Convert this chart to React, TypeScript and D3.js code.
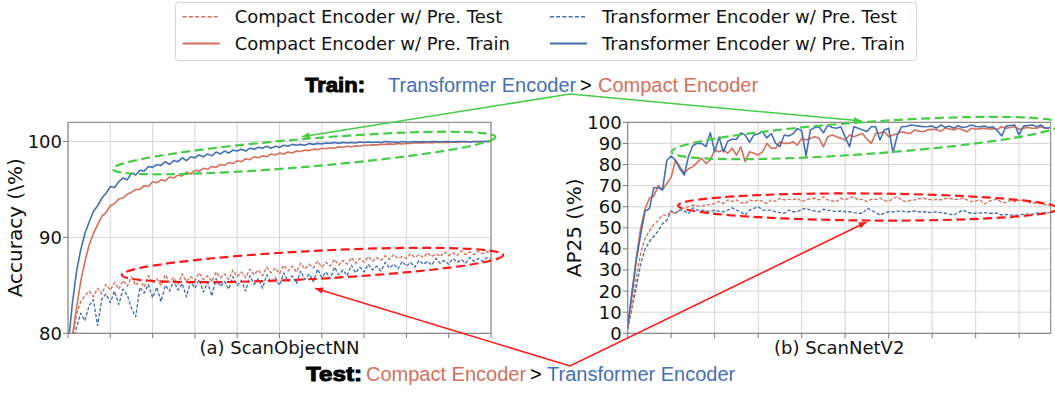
import * as d3 from "d3"

// ---- data ----
// left panel: ScanObjectNN accuracy, one value every 3 epochs (0..300)
const leftEpochStep = 3
const leftXTicks = [0, 30, 60, 90, 120, 150, 180, 210, 240, 270, 300]
const leftYTicks = [80, 90, 100]

const objTransTrain = [
  78.5, 83.0, 86.4, 88.7, 90.4, 91.6, 92.7, 93.3, 94.1, 94.6, 95.3, 95.2, 95.8, 96.2, 96.0, 96.7, 96.5, 97.0, 96.9, 97.4,
  97.3, 97.6, 97.5, 97.9, 97.6, 98.0, 97.9, 98.3, 98.0, 98.4, 98.3, 98.6, 98.4, 98.7, 98.5, 98.9, 98.7, 99.0, 98.8, 99.1,
  99.0, 99.2, 99.0, 99.3, 99.2, 99.4, 99.3, 99.5, 99.3, 99.5, 99.4, 99.6, 99.5, 99.7, 99.6, 99.7, 99.6, 99.8, 99.7, 99.8,
  99.75, 99.85, 99.8, 99.9, 99.8, 99.9, 99.85, 99.9, 99.85, 99.95, 99.9, 99.95, 99.9, 99.95, 99.9, 100, 99.95, 99.95, 99.9, 100,
  99.95, 99.95, 100, 99.95, 100, 99.95, 100, 100, 99.95, 100, 100, 99.95, 100, 100, 100, 99.95, 100, 100, 100, 100, 100
]
const objCompTrain = [
  76.0, 79.6, 82.6, 85.4, 87.5, 89.2, 90.4, 91.3, 92.2, 92.6, 93.3, 93.5, 94.0, 94.1, 94.5, 94.7, 95.0, 95.0, 95.4, 95.3,
  95.8, 95.7, 96.0, 95.9, 96.3, 96.2, 96.5, 96.4, 96.8, 96.6, 97.0, 96.9, 97.2, 97.1, 97.4, 97.3, 97.6, 97.5, 97.8, 97.7,
  98.0, 97.9, 98.2, 98.1, 98.4, 98.3, 98.5, 98.4, 98.7, 98.6, 98.8, 98.7, 98.9, 98.8, 99.0, 98.95, 99.1, 99.05, 99.2, 99.15,
  99.3, 99.25, 99.35, 99.3, 99.45, 99.4, 99.5, 99.45, 99.55, 99.5, 99.6, 99.6, 99.65, 99.65, 99.7, 99.7, 99.75, 99.7, 99.8, 99.75,
  99.8, 99.8, 99.85, 99.85, 99.85, 99.9, 99.85, 99.9, 99.9, 99.9, 99.9, 99.95, 99.9, 99.95, 99.95, 99.95, 100, 99.95, 100, 100, 100
]
const objCompTest = [
  76.0, 79.4, 81.9, 83.3, 83.9, 84.4, 83.8, 84.7, 84.1, 85.1, 84.5, 85.3, 84.6, 85.5, 84.9, 85.9, 85.0, 85.6, 84.8, 86.0,
  85.2, 85.7, 85.0, 86.1, 85.3, 85.8, 85.1, 86.2, 85.4, 85.9, 85.5, 86.3, 85.6, 86.0, 85.4, 86.4, 85.8, 86.2, 85.6, 86.6,
  85.9, 86.4, 85.8, 86.7, 86.1, 86.6, 86.0, 86.9, 86.3, 86.8, 86.2, 87.1, 86.5, 87.0, 86.4, 87.3, 86.7, 87.2, 86.8, 87.5,
  86.9, 87.4, 87.0, 87.7, 87.1, 87.6, 87.2, 87.9, 87.3, 87.8, 87.4, 88.0, 87.5, 87.9, 87.6, 88.1, 87.7, 88.2, 87.8, 88.0,
  87.8, 88.3, 87.9, 88.2, 87.9, 88.4, 88.0, 88.3, 88.0, 88.5, 88.1, 88.4, 88.1, 88.6, 88.2, 88.5, 88.2, 88.6, 88.3, 88.5, 88.4
]
const objTransTest = [
  76.0, 78.8, 80.6, 82.1, 81.3, 82.9, 83.5, 80.8, 83.6, 84.1, 83.2, 84.4, 83.0, 84.6, 84.0, 82.6, 81.7, 84.8, 84.2, 85.1,
  83.7, 84.8, 83.3, 85.0, 84.4, 85.5, 84.5, 85.2, 83.8, 85.4, 84.7, 85.6, 84.3, 85.3, 83.9, 85.7, 84.9, 85.4, 84.6, 85.9,
  85.0, 85.5, 84.4, 86.0, 85.1, 85.7, 84.7, 86.1, 85.3, 85.8, 85.0, 86.3, 85.4, 86.0, 85.2, 86.5, 85.6, 86.2, 85.4, 86.7,
  85.8, 86.4, 85.7, 86.9, 86.1, 86.6, 86.0, 87.1, 86.3, 86.9, 86.4, 87.2, 86.6, 87.0, 86.5, 87.4, 86.8, 87.2, 86.7, 87.5,
  87.0, 87.4, 86.9, 87.6, 87.2, 87.5, 87.1, 87.8, 87.3, 87.6, 87.2, 87.8, 87.4, 87.7, 87.3, 87.9, 87.5, 87.8, 87.5, 87.9, 87.7
]

// right panel: ScanNetV2 AP25, one value per epoch (0..97)
const rightXTicks = [0, 10, 20, 30, 40, 50, 60, 70, 80, 90]
const rightYTicks = [0, 10, 20, 30, 40, 50, 60, 70, 80, 90, 100]

const netTransTrain = [
  3, 20, 35, 47, 58, 59, 69, 69, 68, 82, 84, 82, 78, 75, 84, 89, 90, 90, 88.5, 95,
  86, 93, 86, 91, 92, 92, 95, 94, 90.5, 94, 94.5, 95.5, 92.6, 94.7, 90, 88.5, 94, 93.5, 94.5, 97,
  96, 84, 96.4, 97.5, 97.9, 95, 98.7, 97.5, 97.2, 97.9, 93, 88.4, 97.9, 97.2, 96.4, 95.6, 97.9, 97.9, 91.6, 96.4,
  97.2, 85.6, 94, 97.9, 98, 98.7, 98.5, 98.2, 97.9, 98, 98.2, 97.2, 98.7, 97.6, 98.2, 97.2, 98.4, 97.5, 97.9, 98.7,
  98, 97.9, 98.2, 97.5, 97.9, 96, 93.5, 98.2, 98.5, 98.7, 94, 98.2, 98.5, 98.7, 97.9, 98.7, 97.2, 97.5
]
const netCompTrain = [
  3, 18, 36, 50, 59, 64, 65, 70, 68, 71, 74, 82, 79, 76, 78, 79, 81, 83, 80.5, 82,
  87, 86, 87, 85.3, 87.7, 84.5, 88.4, 81.3, 86, 85.3, 84.5, 86, 90, 87.7, 87.7, 90.8, 90, 90, 90.8, 89.2,
  92.4, 91.6, 92.4, 93.2, 92.4, 88.4, 93.2, 94, 93.2, 92.5, 91.6, 94, 93.2, 94, 94.7, 92, 90, 94.7, 95, 95.5,
  93.2, 94, 94.7, 95.5, 95, 94.7, 96.4, 95.8, 95.5, 96.4, 96.7, 96.5, 95.8, 97.2, 96.8, 96.4, 97.2, 96.5, 95.5, 97.2,
  96.7, 97, 97.2, 96.7, 97, 96.7, 97.9, 97.2, 97.5, 97.9, 96.7, 97.2, 97.6, 97.2, 97.2, 97.9, 97.2, 97.2
]
const netCompTest = [
  2, 12, 27, 38, 45, 48.5, 51.5, 53.5, 56, 56, 57.6, 56.9, 58.4, 59.5, 60, 60.8, 60.3, 60.3, 60.8, 61,
  61.5, 62.5, 61.5, 63.2, 62.5, 63.2, 62, 61.5, 63.2, 62.5, 63.2, 62.5, 61.5, 63.2, 62.5, 64, 63.2, 63.5, 63.2, 64,
  62.4, 63.2, 63.8, 64, 63.2, 64.7, 63.2, 62.8, 62.4, 64, 63.2, 64.2, 64.7, 63.2, 63.5, 62.4, 63.5, 63.5, 64, 63,
  62.4, 63.8, 64.7, 63, 62.4, 63, 63.2, 63.8, 64, 63.5, 63.2, 63.4, 63.2, 63.8, 64, 63.5, 63.5, 64, 63.2, 62.4,
  62.8, 63.2, 61.3, 62.5, 63.2, 63.5, 62, 61.9, 63.2, 62.4, 63, 63.2, 62.4, 61.6, 61.9, 61.3, 61, 60.8
]
const netTransTest = [
  2, 12, 22, 33, 40, 43.5, 46, 48.5, 52, 53.5, 58, 56.9, 58.5, 58, 56.9, 59.5, 58.4, 58.4, 58, 57.6,
  58.4, 57.8, 57.6, 58.4, 59.5, 58.4, 57.6, 56, 58.4, 59.2, 60, 58.4, 58.4, 58.4, 57.6, 57.2, 56.9, 58.4, 57.6, 57.6,
  58.8, 59.2, 58.4, 58, 57.6, 58.8, 58.4, 58, 57.6, 58, 57.6, 57.6, 57.2, 56.9, 56.9, 59.2, 58.4, 57.2, 56, 57,
  57.6, 57.6, 57.8, 58, 57.6, 57.6, 58, 57.6, 57.6, 57.4, 57.2, 57.6, 57.2, 56.9, 56.5, 56, 57.2, 58.4, 57.4, 56.9,
  56.9, 57, 57.2, 56.9, 56.9, 56.9, 56, 56.4, 56, 56, 56, 56.5, 56.5, 56.5, 56.9, 56.9, 57, 57.2
]

const legendLabels = [
  "Compact Encoder w/ Pre. Test",
  "Compact Encoder w/ Pre. Train",
  "Transformer Encoder w/ Pre. Test",
  "Transformer Encoder w/ Pre. Train"
]
// the original labels carry a literal backslash before the percent sign
const BSL = String.fromCharCode(92)
const leftYLabel = `Accuracy (${BSL}%)`
const rightYLabel = `AP25 (${BSL}%)`

// ---- styles ----
const COMPACT = "#d4705a"
const TRANSFORMER = "#4470b2"
const GREEN = "#46cc46"
const RED = "#ff1a1a"
const GRID = "#d6d6d6"
const SPINE = "#7a7a7a"
const MPL_FONT = "DejaVu Sans"
const ARIAL = "Liberation Sans, Arial, sans-serif"

const W = 1055
const H = 393
const TOP = 122.3
const BOTTOM = 333.3

const xL = d3.scaleLinear().domain([0, 300]).range([68, 491])
const yL = d3.scaleLinear().domain([80, 102]).range([BOTTOM, TOP])
const xR = d3.scaleLinear().domain([0, 97.25]).range([627.7, 1050.7])
const yR = d3.scaleLinear().domain([0, 100]).range([BOTTOM, TOP])

function Panel({ id, x, y, xTicks, yTicks, step, series, title, ylabel, ylabelX }: any) {
  const [x0, x1] = x.range()
  const line = (vals: number[]) =>
    d3.line<number>().x((_, i) => x(i * step)).y(d => y(d))(vals) || ""
  return (
    <g>
      <defs>
        <clipPath id={id}>
          <rect x={x0} y={TOP} width={x1 - x0} height={BOTTOM - TOP} />
        </clipPath>
      </defs>
      {/* grid */}
      {xTicks.map((t: number) => (
        <line key={"gx" + t} x1={x(t)} x2={x(t)} y1={TOP} y2={BOTTOM} stroke={GRID} strokeWidth={1} />
      ))}
      {yTicks.map((t: number) => (
        <line key={"gy" + t} x1={x0} x2={x1} y1={y(t)} y2={y(t)} stroke={GRID} strokeWidth={1} />
      ))}
      {/* series */}
      <g clipPath={`url(#${id})`} fill="none" strokeLinejoin="round">
        {series.map((s: any, i: number) => (
          <path key={i} d={line(s.values)} stroke={s.color}
            strokeWidth={s.dashed ? 1.35 : 1.6} strokeDasharray={s.dashed ? "3.5,1.8" : undefined} />
        ))}
      </g>
      {/* spines */}
      <rect x={x0} y={TOP} width={x1 - x0} height={BOTTOM - TOP} fill="none" stroke={SPINE} strokeWidth={1} />
      {/* ticks */}
      {xTicks.map((t: number) => (
        <line key={"tx" + t} x1={x(t)} x2={x(t)} y1={BOTTOM} y2={BOTTOM + 5} stroke={SPINE} strokeWidth={1} />
      ))}
      {yTicks.map((t: number) => (
        <g key={"ty" + t}>
          <line x1={x0 - 5} x2={x0} y1={y(t)} y2={y(t)} stroke={SPINE} strokeWidth={1} />
          <text x={x0 - 6} y={y(t)} dy="0.36em" textAnchor="end" fontSize={18} fontFamily={MPL_FONT} fill="#111">{t}</text>
        </g>
      ))}
      <text x={(x0 + x1) / 2} y={354} textAnchor="middle" fontSize={18} fontFamily={MPL_FONT} fill="#111">{title}</text>
      <text transform={`translate(${ylabelX},${(TOP + BOTTOM) / 2}) rotate(-90)`} textAnchor="middle"
        fontSize={20} fontFamily={MPL_FONT} fill="#111">{ylabel}</text>
    </g>
  )
}

function Arrow({ pts, color }: { pts: [number, number][]; color: string }) {
  const heads = [
    [pts[0], pts[1]],
    [pts[pts.length - 1], pts[pts.length - 2]]
  ].map(([tip, from], i) => {
    const a = Math.atan2(tip[1] - from[1], tip[0] - from[0])
    const L = 8, w = 3.2
    const bx = tip[0] - L * Math.cos(a), by = tip[1] - L * Math.sin(a)
    const p = [
      [tip[0], tip[1]],
      [bx + w * Math.sin(a), by - w * Math.cos(a)],
      [bx - w * Math.sin(a), by + w * Math.cos(a)]
    ]
    return <polygon key={i} points={p.map(q => q.join(",")).join(" ")} fill={color} />
  })
  return (
    <g>
      <polyline points={pts.map(p => p.join(",")).join(" ")} fill="none" stroke={color} strokeWidth={1.6} />
      {heads}
    </g>
  )
}

function Ellipse({ cx, cy, rx, ry, angle, color }: any) {
  return (
    <ellipse cx={cx} cy={cy} rx={rx} ry={ry} transform={`rotate(${angle} ${cx} ${cy})`}
      fill="none" stroke={color} strokeWidth={2.2} strokeDasharray="9,4.5" />
  )
}

export default function App() {
  const legendItems = [
    { label: legendLabels[0], color: COMPACT, dashed: true, x: 182.7, y: 16.7 },
    { label: legendLabels[1], color: COMPACT, dashed: false, x: 182.7, y: 43.5 },
    { label: legendLabels[2], color: TRANSFORMER, dashed: true, x: 550, y: 16.7 },
    { label: legendLabels[3], color: TRANSFORMER, dashed: false, x: 550, y: 43.5 }
  ]
  return (
    <svg width={W} height={H} style={{ position: "absolute", left: 0, top: 0, background: "#fff" }}>
      <rect width={W} height={H} fill="#fff" />
      <Panel id="clipL" x={xL} y={yL} xTicks={leftXTicks} yTicks={leftYTicks} step={leftEpochStep}
        title="(a) ScanObjectNN" ylabel={leftYLabel} ylabelX={22}
        series={[
          { values: objTransTest, color: TRANSFORMER, dashed: true },
          { values: objCompTest, color: COMPACT, dashed: true },
          { values: objCompTrain, color: COMPACT, dashed: false },
          { values: objTransTrain, color: TRANSFORMER, dashed: false }
        ]} />
      <Panel id="clipR" x={xR} y={yR} xTicks={rightXTicks} yTicks={rightYTicks} step={1}
        title="(b) ScanNetV2" ylabel={rightYLabel} ylabelX={581}
        series={[
          { values: netTransTest, color: TRANSFORMER, dashed: true },
          { values: netCompTest, color: COMPACT, dashed: true },
          { values: netCompTrain, color: COMPACT, dashed: false },
          { values: netTransTrain, color: TRANSFORMER, dashed: false }
        ]} />

      {/* highlight ellipses */}
      <Ellipse cx={304} cy={153} rx={192} ry={14} angle={-4.8} color={GREEN} />
      <Ellipse cx={312.5} cy={265} rx={191} ry={14} angle={-3.0} color={RED} />
      <Ellipse cx={866} cy={138} rx={195} ry={16} angle={-4.1} color={GREEN} />
      <Ellipse cx={868} cy={207} rx={190} ry={13.5} angle={0.45} color={RED} />

      {/* arrows */}
      <Arrow pts={[[301.7, 136.7], [570, 94], [861.7, 121]]} color={GREEN} />
      <Arrow pts={[[315, 288.3], [570, 366], [866.7, 222]]} color={RED} />

      {/* annotation text */}
      <g fontFamily={ARIAL} fontSize={20}>
        <text x={305} y={92} fontSize={21} fontWeight="bold" fill="#000" stroke="#000" strokeWidth={1}
          textLength={60} lengthAdjust="spacingAndGlyphs">Train:</text>
        <text x={388} y={92} fill={TRANSFORMER}>Transformer Encoder</text>
        <text x={580} y={92} fill="#000">&gt;</text>
        <text x={598} y={92} fill={COMPACT}>Compact Encoder</text>
        <text x={306} y={381} fontSize={21} fontWeight="bold" fill="#000" stroke="#000" strokeWidth={1}
          textLength={56} lengthAdjust="spacingAndGlyphs">Test:</text>
        <text x={366} y={381} fill={COMPACT}>Compact Encoder</text>
        <text x={530} y={381} fill="#000">&gt;</text>
        <text x={547} y={381} fill={TRANSFORMER}>Transformer Encoder</text>
      </g>

      {/* legend */}
      <rect x={175.5} y={2.5} width={741} height={58} rx={3} fill="#fff" stroke="#d4d4d4" strokeWidth={1} />
      {legendItems.map((it, i) => (
        <g key={i}>
          <line x1={it.x} x2={it.x + 37} y1={it.y} y2={it.y} stroke={it.color}
            strokeWidth={it.dashed ? 1.4 : 2} strokeDasharray={it.dashed ? "4,2.2" : undefined} />
          <text x={it.x + 52} y={it.y} dy="0.36em" fontSize={18} fontFamily={MPL_FONT} fill="#111">{it.label}</text>
        </g>
      ))}
    </svg>
  )
}
